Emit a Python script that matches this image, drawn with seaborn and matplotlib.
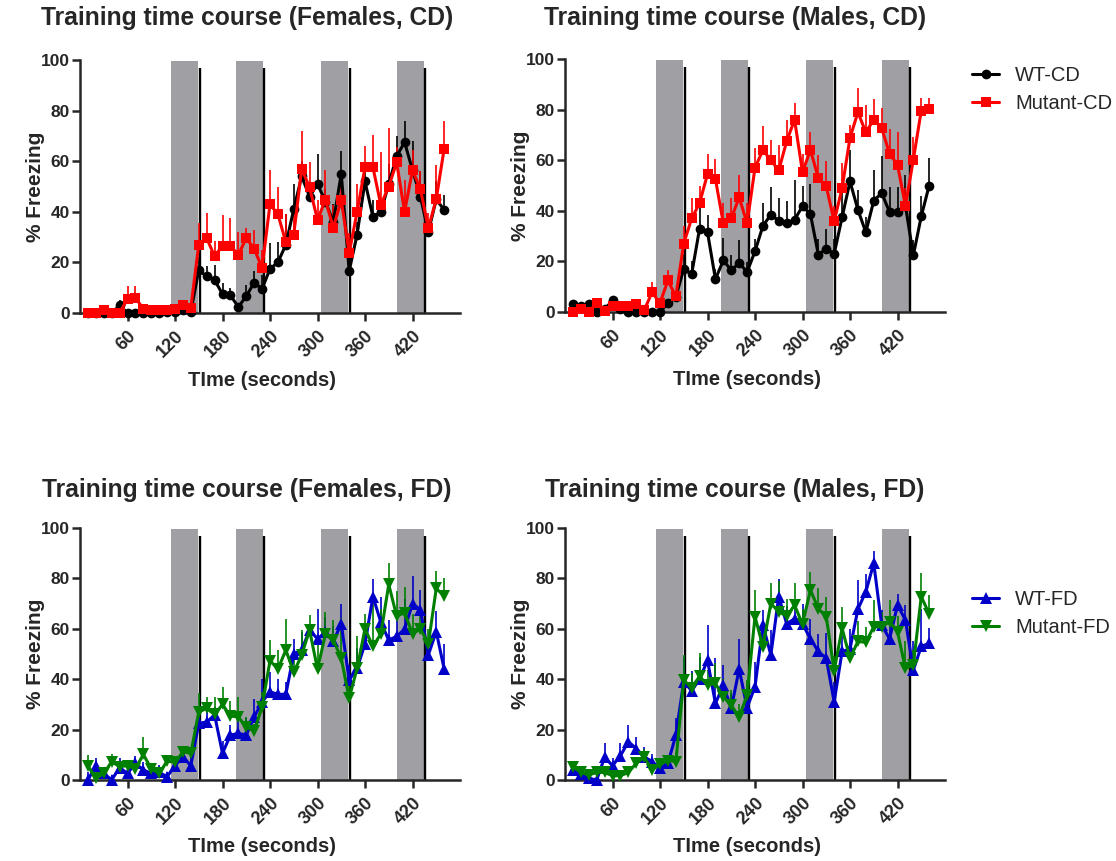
import numpy as np
import pandas as pd
import matplotlib
matplotlib.use("Agg")
import matplotlib.pyplot as plt
import seaborn as sns

# ---------------- data ----------------
time_s = list(range(10, 470, 10))  # 46 bins

cs_intervals = [(115, 149), (197, 231), (305, 339), (400, 434)]
shock_times = [151, 233, 341, 436]
x_ticks = [60, 120, 180, 240, 300, 360, 420]
y_ticks = [0, 20, 40, 60, 80, 100]

titles = ["Training time course (Females, CD)", "Training time course (Males, CD)",
          "Training time course (Females, FD)", "Training time course (Males, FD)"]

# Females, CD
f_cd_wt = [0, 0, 0, 0, 3, 0, 0, 0, 0, 0, 0.5, 0.5, 1, 0.5,
           17, 14.5, 13, 7.5, 7, 2.4, 6.6, 12, 9.5, 17.5,
           20, 27, 41, 54, 46, 51, 44, 36, 55, 16.6,
           31, 52, 38, 40, 51, 62, 67.5, 56.5, 46, 32, 45, 40.7]
f_cd_wt_sem = [0, 0, 0, 0, 2, 1, 0, 0, 0, 0, 0, 0, 1, 0.5,
               5, 4, 6, 4.5, 3, 1.5, 4.5, 4.5, 5.5, 10,
               8, 12, 10, 6, 5, 12, 5, 7, 9, 6,
               5, 6, 6.7, 5, 8, 8, 8.5, 11.5, 10, 4, 7, 6]
f_cd_mut = [0, 0, 1, 0, 0, 5.5, 6, 1.7, 1, 1, 1, 1.5, 3.3, 2,
            27, 29.6, 22.4, 26.6, 26.6, 23, 29.6, 25.4, 17.8, 43,
            39, 28, 31, 57, 49.7, 36.8, 44.7, 33.7, 44.7, 23.6,
            40, 57.6, 57.6, 42.7, 50, 59.5, 40, 56.5, 49, 33.5, 45, 65]
f_cd_mut_sem = [0, 0, 0.5, 0, 0, 5, 4.5, 1, 0.5, 0.5, 0.5, 1, 1.5, 1,
                8.5, 10, 6, 12, 11, 9, 4, 7.6, 7, 13.5,
                11, 11, 10, 15, 10, 8, 12, 9, 5, 8,
                11, 8.5, 12.7, 21, 23, 6, 12.6, 8, 7, 6, 13.5, 11]

# Males, CD
m_cd_wt = [3, 2.5, 3, 0, 1, 4.6, 1, 0, 0, 0, 0, 0, 3.5, 6,
           17, 15, 33, 31.5, 13, 20.4, 16.5, 19.4, 15.8, 24,
           34, 38.5, 36, 35, 36.5, 41.8, 38.7, 22.7, 25, 23,
           37.4, 51.6, 40.4, 31.5, 44, 47, 39.5, 39.5, 42, 22.4, 37.8, 50]
m_cd_wt_sem = [1, 1, 1, 0, 1, 1.5, 1, 0, 0, 0, 0, 0, 1, 1,
               6, 5, 8, 7, 4, 9, 6, 9, 4, 5,
               9, 11, 9, 9, 15.5, 8, 12, 6, 8, 6,
               10, 12.6, 8, 6, 12, 14.5, 10, 10, 12, 6, 8, 11]
m_cd_mut = [0, 1.2, 0, 3.5, 0.5, 2.2, 2.5, 2.2, 3.3, 0.7, 7.8, 3.5, 12.5, 6.2,
            27, 37, 43, 54.5, 52.6, 35, 37, 45.3, 35, 57,
            64, 60, 56, 67.5, 76, 55.3, 64, 53, 49.7, 35.8,
            49, 68.8, 79, 71, 76, 72.7, 62.5, 58.2, 42, 60.2, 79.6, 80.4]
m_cd_mut_sem = [0, 1, 0, 1.5, 0.5, 1, 1.5, 1, 1.5, 0.5, 4, 2, 4, 2,
                7, 8, 7, 8, 8, 8, 8, 9, 8, 8,
                9.6, 8, 10, 8.5, 6.6, 7, 7, 9, 10, 6,
                10, 5, 9.5, 11, 8, 8, 10, 13, 7, 9, 5, 4]

# Females, FD
f_fd_wt = [0, 5.7, 2.6, 0, 4.9, 2.6, 6.6, 4, 2.6, 3, 1.3, 5.7, 9.2, 5.7,
           22.5, 23, 25.8, 10.6, 17.8, 18.5, 17.8, 25, 31, 35,
           34, 34, 50, 51.6, 59.5, 56, 58.6, 55, 62, 39.7,
           44.3, 54, 72.8, 62.6, 55.5, 57, 59.8, 70, 67.5, 49.6, 58.9, 44]
f_fd_wt_sem = [3, 3, 2, 2, 4, 3, 3, 3, 2, 3, 2, 3, 3, 4,
               6, 5, 3, 5, 4, 5, 6.7, 7, 9, 8,
               6, 5, 6, 7, 2.5, 12, 6, 6, 8, 6,
               8, 6, 7, 10, 8, 8, 12, 11, 8, 6, 8, 10]
f_fd_mut = [5.7, 0.7, 2.6, 7.3, 5.3, 5.7, 4.4, 10.2, 4.4, 2.6, 7.5, 7, 11.2, 10.6,
            27, 28.4, 26, 30, 25.4, 25, 21, 19.4, 29, 47.4,
            44, 51.6, 42.7, 49.6, 59.5, 44, 57.8, 55.5, 48.3, 32.4,
            44.3, 60, 53, 58, 77.6, 65, 66.4, 58, 60, 54, 76, 73]
f_fd_mut_sem = [4.4, 2, 2, 3, 2, 2, 2, 7, 2, 2, 2, 2, 2, 2,
                7.4, 4.6, 7, 7, 6, 8, 4, 3, 6, 8,
                7.6, 12.4, 8, 10, 6, 10, 9, 8, 16, 6,
                12.7, 6, 19, 10, 8.6, 10, 10, 8, 8, 6, 7, 7]

# Males, FD
m_fd_wt = [4, 2.2, 0.7, 0, 9, 5.7, 9.6, 15.2, 12.5, 9.2, 7.3, 4.6, 6.6, 17.8,
           39, 35.4, 40, 47.5, 30.4, 37.6, 28.4, 44, 28.7, 37,
           61.5, 49.6, 72.8, 62, 64, 62, 56, 51, 48.3, 31,
           51, 52, 67.8, 74.7, 86, 61.5, 56, 69.4, 63.5, 43.6, 53, 54.2]
m_fd_wt_sem = [2, 1, 1, 1, 5.5, 3, 5, 6.6, 4.5, 4, 3, 2, 3, 7,
               10, 8, 9, 14, 18, 8, 6, 12, 8, 10,
               6, 10, 7, 7, 5, 8, 8, 7, 10, 8,
               6, 8, 11.6, 7, 5, 6, 6, 4.6, 6, 11.4, 15, 6]
m_fd_mut = [5.3, 3, 2, 3, 3, 1.7, 1.7, 3, 6.6, 9.2, 4, 6.2, 7.7, 7.3,
            39.6, 36.6, 41.2, 37.6, 38.3, 33, 29.7, 25, 33.7, 64.8,
            52.9, 70, 66.8, 65, 69.4, 61.8, 75.4, 68, 64.8, 43.4,
            60.2, 48.3, 55, 54.6, 60.8, 60.8, 62.8, 58.9, 44.3, 45.6, 72.8, 65.9]
m_fd_mut_sem = [2, 1, 1, 1, 1, 1, 1, 1, 2, 3, 2, 2, 2, 2,
                10, 6, 9, 6, 8, 7, 6, 5, 6, 10.6,
                8, 8, 12, 7, 8.6, 6, 7.3, 8, 8, 6,
                8.6, 6, 8, 6, 10.6, 6, 8.6, 6, 10.7, 6, 9.2, 7.5]

# ---------------- style ----------------
sns.set_style("ticks")
plt.rcParams["font.family"] = ["Liberation Sans", "DejaVu Sans"]

fig = plt.figure(figsize=(11.16, 8.61), dpi=100)
W, H = 1116, 861

def ax_at(x0, x1, y_top, y_bot):
    return fig.add_axes([x0 / W, 1 - y_bot / H, (x1 - x0) / W, (y_bot - y_top) / H])

axes = [ax_at(80, 460, 60, 313), ax_at(565, 945, 59, 312),
        ax_at(80, 460, 528, 780), ax_at(565, 945, 528, 780)]

panels = [
    (("WT-CD", f_cd_wt, f_cd_wt_sem, "black", "o", 7),
     ("Mutant-CD", f_cd_mut, f_cd_mut_sem, "#FF0000", "s", 7.5)),
    (("WT-CD", m_cd_wt, m_cd_wt_sem, "black", "o", 7),
     ("Mutant-CD", m_cd_mut, m_cd_mut_sem, "#FF0000", "s", 7.5)),
    (("WT-FD", f_fd_wt, f_fd_wt_sem, "#0000C8", "^", 8),
     ("Mutant-FD", f_fd_mut, f_fd_mut_sem, "#008000", "v", 8)),
    (("WT-FD", m_fd_wt, m_fd_wt_sem, "#0000C8", "^", 8),
     ("Mutant-FD", m_fd_mut, m_fd_mut_sem, "#008000", "v", 8)),
]

title_xy = [(247, 18), (735, 18), (247, 490), (735, 490)]

for i, (ax, series) in enumerate(zip(axes, panels)):
    for (a, b) in cs_intervals:
        ax.axvspan(a, b, ymin=0, ymax=0.995, color="#A0A0A4", lw=0, zorder=0)
    ax.vlines(shock_times, 0, 97, color="black", lw=1.7, zorder=1)
    for label, mean, sem, col, mk, ms in series:
        df = pd.DataFrame({"t": time_s, "v": mean, "s": sem})
        ax.vlines(df["t"], df["v"], df["v"] + df["s"], color=col, lw=1.2, zorder=2, clip_on=False)
        sns.lineplot(data=df, x="t", y="v", ax=ax, color=col, marker=mk, markersize=ms,
                     markeredgewidth=0, lw=2.2, label=label, zorder=3, clip_on=False)
    ax.set_xlim(0, 480)
    ax.set_ylim(0, 100)
    ax.set_xticks(x_ticks)
    ax.set_yticks(y_ticks)
    ax.set_xticklabels([str(t) for t in x_ticks], rotation=45, ha="right", va="top",
                       rotation_mode="anchor", fontsize=13, fontweight="bold")
    ax.set_yticklabels([str(t) for t in y_ticks], fontsize=12.5, fontweight="bold")
    sns.despine(ax=ax)
    for sp in ("left", "bottom"):
        ax.spines[sp].set_linewidth(1.8)
    ax.tick_params(axis="both", width=1.8, length=5.5)
    ax.tick_params(axis="y", pad=2)
    ax.tick_params(axis="x", pad=5)
    ax.set_xlabel("TIme (seconds)", fontsize=14.5, fontweight="bold")
    ax.set_ylabel("% Freezing", fontsize=15, fontweight="bold")
    ax.xaxis.set_label_coords(0.479, -0.265)
    ax.xaxis.label.set_va("center")
    ax.yaxis.set_label_coords(-0.118, 0.5)
    ax.yaxis.label.set_va("center")
    ax.legend_.remove()
    tx, ty = title_xy[i]
    fig.text(tx / W, 1 - ty / H, titles[i], ha="center", va="center",
             fontsize=17.7, fontweight="bold")

for ax, y_top in ((axes[1], 66), (axes[3], 590)):
    h, l = ax.get_legend_handles_labels()
    fig.legend(h, l, loc="upper left", bbox_to_anchor=(972 / W, 1 - y_top / H),
               frameon=False, fontsize=14.5, handlelength=1.35, handletextpad=0.8,
               labelspacing=0.45, borderaxespad=0, borderpad=0)

fig.savefig("out.png", dpi=100)
